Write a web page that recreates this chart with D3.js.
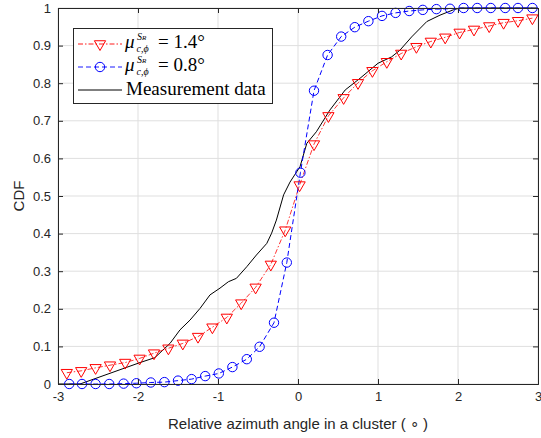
<!DOCTYPE html>
<html>
<head>
<meta charset="utf-8">
<script src="https://cdn.jsdelivr.net/npm/d3@7"></script>
<style>
  body { margin: 0; background: #fff; }
  text { font-family: "Liberation Sans", Arial, sans-serif; fill: #262626; }
  .leg text { font-family: "Liberation Serif", "DejaVu Serif", serif; fill: #000; }
</style>
</head>
<body>
<div id="chart"></div>
<script>
let svgWidth = 541;
let svgHeight = 438;

let mar = { top: 8, bottom: 54, right: 3, left: 58 };
let wdt = svgWidth - mar.left - mar.right;
let hgt = svgHeight - mar.top - mar.bottom;

// red: mu = 1.4 deg
let redX = [-2.89, -2.71, -2.53, -2.35, -2.16, -1.98, -1.80, -1.62, -1.44, -1.25, -1.07,
    -0.89, -0.71, -0.53, -0.34, -0.16, 0.02, 0.20, 0.38, 0.57, 0.75, 0.93, 1.11, 1.29,
    1.48, 1.66, 1.84, 2.02, 2.20, 2.39, 2.57, 2.75, 2.93];
let redY = [0.030, 0.035, 0.043, 0.050, 0.057, 0.068, 0.082, 0.095, 0.108, 0.126, 0.151,
    0.177, 0.215, 0.257, 0.318, 0.409, 0.529, 0.638, 0.713, 0.761, 0.801, 0.833, 0.857,
    0.879, 0.897, 0.911, 0.922, 0.935, 0.943, 0.952, 0.961, 0.966, 0.973];

// blue: mu = 0.8 deg
let blueX = [-2.86, -2.70, -2.53, -2.36, -2.18, -2.02, -1.84, -1.67, -1.50, -1.33, -1.16,
    -0.99, -0.82, -0.64, -0.48, -0.30, -0.14, 0.03, 0.20, 0.37, 0.54, 0.71, 0.88, 1.05,
    1.22, 1.39, 1.56, 1.73, 1.90, 2.07, 2.24, 2.41, 2.59, 2.75, 2.93];
let blueY = [0.000, 0.000, 0.000, 0.000, 0.001, 0.002, 0.004, 0.005, 0.009, 0.013, 0.021,
    0.028, 0.045, 0.066, 0.099, 0.163, 0.323, 0.562, 0.780, 0.875, 0.924, 0.949, 0.965,
    0.979, 0.987, 0.992, 0.995, 0.997, 0.998, 1.000, 1.000, 1.000, 1.000, 1.000, 1.000];

// measurement data
let measX = [-3, -2.725, -1.975, -1.79, -1.6, -1.475, -1.35, -1.225, -1.1, -0.975, -0.87,
    -0.77, -0.64, -0.52, -0.39, -0.33, -0.27, -0.18, -0.10, 0.025, 0.11, 0.23, 0.40,
    0.59, 0.775, 1.00, 1.17, 1.275, 1.42, 1.61, 1.775, 1.94, 2.025, 3.0];
let measY = [0, 0, 0.057, 0.070, 0.108, 0.144, 0.170, 0.201, 0.237, 0.255, 0.272,
    0.281, 0.312, 0.343, 0.374, 0.401, 0.436, 0.503, 0.537, 0.578, 0.640, 0.671, 0.729,
    0.782, 0.813, 0.853, 0.870, 0.888, 0.923, 0.964, 0.981, 0.995, 1.0, 1.0];

let xTicks = [-3, -2, -1, 0, 1, 2, 3];
let yTicks = [0, 0.1, 0.2, 0.3, 0.4, 0.5, 0.6, 0.7, 0.8, 0.9, 1];

let svg = d3.select("#chart")
    .append("svg")
    .attr("width", svgWidth)
    .attr("height", svgHeight);
let chart = svg.append("g")
    .attr("transform", `translate(${mar.left}, ${mar.top})`);

let x = d3.scaleLinear().domain([-3, 3]).range([0, wdt]);
let y = d3.scaleLinear().domain([0, 1]).range([hgt, 0]);

// grid
chart.append("g").selectAll("line")
    .data(xTicks)
    .enter()
    .append("line")
    .attr("x1", d => x(d)).attr("x2", d => x(d))
    .attr("y1", 0).attr("y2", hgt)
    .attr("stroke", "#dfdfdf");
chart.append("g").selectAll("line")
    .data(yTicks)
    .enter()
    .append("line")
    .attr("x1", 0).attr("x2", wdt)
    .attr("y1", d => y(d)).attr("y2", d => y(d))
    .attr("stroke", "#dfdfdf");

let pts = (xs, ys) => xs.map((v, i) => [v, ys[i]]);
let line = d3.line().x(d => x(d[0])).y(d => y(d[1]));

let redPts = pts(redX, redY);
let bluePts = pts(blueX, blueY);
let measPts = pts(measX, measY);

let plot = chart.append("g");

plot.append("path")
    .datum(measPts)
    .attr("d", line)
    .attr("fill", "none")
    .attr("stroke", "#000")
    .attr("stroke-width", 1);

plot.append("path")
    .datum(redPts)
    .attr("d", line)
    .attr("fill", "none")
    .attr("stroke", "#ff0000")
    .attr("stroke-width", 0.8)
    .attr("stroke-dasharray", "5,2,1.5,2");

plot.append("path")
    .datum(bluePts)
    .attr("d", line)
    .attr("fill", "none")
    .attr("stroke", "#0000ff")
    .attr("stroke-width", 1)
    .attr("stroke-dasharray", "5,3");

let tri = d3.symbol().type(d3.symbolTriangle).size(55);

plot.selectAll(".tri")
    .data(redPts)
    .enter()
    .append("path")
    .attr("class", "tri")
    .attr("d", tri)
    .attr("transform", d => `translate(${x(d[0])}, ${y(d[1])}) rotate(180)`)
    .attr("fill", "none")
    .attr("stroke", "#ff0000")
    .attr("stroke-width", 1);

plot.selectAll(".circ")
    .data(bluePts)
    .enter()
    .append("circle")
    .attr("class", "circ")
    .attr("cx", d => x(d[0]))
    .attr("cy", d => y(d[1]))
    .attr("r", 4.7)
    .attr("fill", "none")
    .attr("stroke", "#0000ff")
    .attr("stroke-width", 1);

// axes
let bottomAxis = d3.axisBottom(x).tickValues(xTicks).tickSize(-5).tickPadding(8).tickFormat(d => String(d));
let leftAxis = d3.axisLeft(y).tickValues(yTicks).tickSize(-5).tickPadding(7).tickFormat(d => d === 0 || d === 1 ? d : d3.format(".1f")(d));
let topAxis = d3.axisTop(x).tickValues(xTicks).tickSize(-5).tickFormat("");
let rightAxis = d3.axisRight(y).tickValues(yTicks).tickSize(-5).tickFormat("");

let xAxis = chart.append("g")
    .attr("transform", `translate(0, ${hgt})`)
    .call(bottomAxis);
let yAxis = chart.append("g").call(leftAxis);
chart.append("g").call(topAxis);
chart.append("g").attr("transform", `translate(${wdt}, 0)`).call(rightAxis);

chart.selectAll(".domain").attr("stroke", "#262626");
chart.selectAll(".tick line").attr("stroke", "#262626");
xAxis.selectAll("text").attr("font-size", 13).style("fill", "#262626");
yAxis.selectAll("text").attr("font-size", 13).style("fill", "#262626");
chart.selectAll(".tick text").attr("font-family", "Liberation Sans, Arial, sans-serif");

// axis labels
svg.append("text")
    .attr("x", mar.left + wdt / 2)
    .attr("y", 429)
    .attr("text-anchor", "middle")
    .attr("font-size", 15)
    .text("Relative azimuth angle in a cluster ( ∘ )");

svg.append("text")
    .attr("transform", `translate(24, ${mar.top + hgt / 2}) rotate(-90)`)
    .attr("text-anchor", "middle")
    .attr("font-size", 15)
    .text("CDF");

// legend
let leg = svg.append("g").attr("class", "leg");
leg.append("rect")
    .attr("x", 73.5).attr("y", 28.5)
    .attr("width", 199).attr("height", 75)
    .attr("fill", "#fff")
    .attr("stroke", "#262626")
    .attr("stroke-width", 1);

let legRows = [
    { color: "#ff0000", dash: "5,2,1.5,2", mark: "tri", val: "1.4", yy: 44 },
    { color: "#0000ff", dash: "5,3", mark: "circ", val: "0.8", yy: 67 },
    { color: "#000", dash: null, mark: null, val: null, yy: 90 }
];

legRows.forEach(function (r) {
    leg.append("line")
        .attr("x1", 78).attr("x2", 122)
        .attr("y1", r.yy).attr("y2", r.yy)
        .attr("stroke", r.color)
        .attr("stroke-width", r.mark ? 0.9 : 1)
        .attr("stroke-dasharray", r.dash);
    if (r.mark === "tri") {
        leg.append("path")
            .attr("d", tri)
            .attr("transform", `translate(100, ${r.yy}) rotate(180)`)
            .attr("fill", "none").attr("stroke", r.color);
    } else if (r.mark === "circ") {
        leg.append("circle")
            .attr("cx", 100).attr("cy", r.yy).attr("r", 4.7)
            .attr("fill", "none").attr("stroke", r.color);
    }
    if (r.val) {
        let t = leg.append("text").attr("x", 125).attr("y", r.yy + 4).attr("font-size", 19);
        t.append("tspan").attr("font-style", "italic").text("μ");
        t.append("tspan").attr("font-style", "italic").attr("font-size", 10).attr("x", 137).attr("dy", -8).text("S");
        t.append("tspan").attr("font-style", "italic").attr("font-size", 7).attr("dy", 0.3).text("R");
        t.append("tspan").attr("font-style", "italic").attr("font-size", 10).attr("x", 136.5).attr("dy", 11.2).text("c,ϕ");
        t.append("tspan").attr("x", 158).attr("dy", -3.5).text("= " + r.val + "°");
    } else {
        leg.append("text").attr("x", 126).attr("y", r.yy + 5).attr("font-size", 19)
            .text("Measurement data");
    }
});
</script>
</body>
</html>
